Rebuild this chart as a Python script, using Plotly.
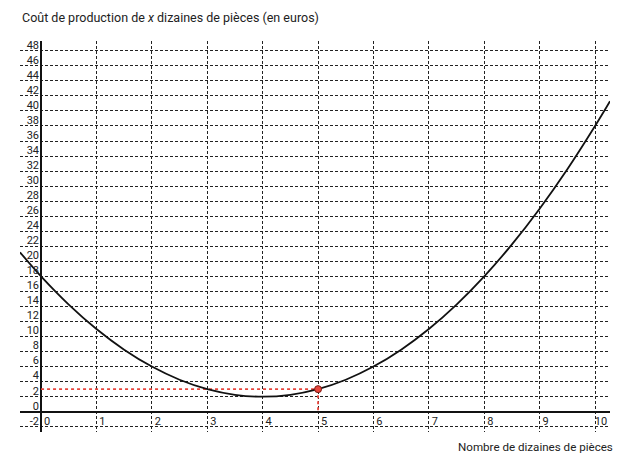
import plotly.graph_objects as go

# Curve values
curve_x = [-0.38, 0, 0.5, 1, 1.5, 2, 2.5, 3, 3.5, 4, 4.5, 5, 5.5, 6, 6.5, 7, 7.5, 8, 8.5, 9, 9.5, 10, 10.27]
curve_y = [21.2, 18, 14.25, 11, 8.25, 6, 4.25, 3, 2.25, 2, 2.25, 3, 4.25, 6, 8.25, 11, 14.25, 18, 22.25, 27, 32.25, 38, 41.3]

# Highlighted point
point_x = [5]
point_y = [3]

x_ticks = list(range(0, 11))
y_ticks = list(range(-2, 49, 2))

title_text = "Coût de production de <i>x</i> dizaines de pièces (en euros)"
xlabel_text = "Nombre de dizaines de pièces"

RED = "#e8453c"
FONT = "Roboto, 'DejaVu Sans', sans-serif"

fig = go.Figure()

# red dotted guide lines
fig.add_trace(go.Scatter(x=[0, point_x[0]], y=[point_y[0], point_y[0]], mode="lines",
                         line=dict(color=RED, width=1.8, dash="dot"), hoverinfo="skip", showlegend=False))
fig.add_trace(go.Scatter(x=[point_x[0], point_x[0]], y=[point_y[0], 0], mode="lines",
                         line=dict(color=RED, width=1.8, dash="dot"), hoverinfo="skip", showlegend=False))

# curve
fig.add_trace(go.Scatter(x=curve_x, y=curve_y, mode="lines",
                         line=dict(color="#111111", width=1.8, shape="spline", smoothing=1.0),
                         showlegend=False))

# point
fig.add_trace(go.Scatter(x=point_x, y=point_y, mode="markers",
                         marker=dict(color=RED, size=7, line=dict(color="#7a1a12", width=1)),
                         showlegend=False))

# page has an 8px body margin: size figure to fill the rest of the window
PAD = 8
W, H = 622 - PAD, 463 - PAD
# plot area in page pixels
PL, PR, PT, PB = 20, 610, 41, 432
L, R, T, B = PL - PAD, W - (PR - PAD), PT - PAD, H - (PB - PAD)
pw, ph = PR - PL, PB - PT

def px_to_paper_x(px):
    return (px - PL) / pw

def px_to_paper_y(py):
    return (PB - py) / ph

fig.update_layout(
    width=W, height=H,
    margin=dict(l=L, r=R, t=T, b=B, autoexpand=False),
    paper_bgcolor="white", plot_bgcolor="white",
    font=dict(family=FONT, size=11, color="#222222"),
    xaxis=dict(
        range=[-0.38, 10.27], tickvals=x_ticks, ticktext=[str(v) for v in x_ticks],
        showgrid=True, gridcolor="#222222", gridwidth=1, griddash="3px,2px",
        zeroline=True, zerolinecolor="#111111", zerolinewidth=2,
        showline=False, ticks="", anchor="free", position=px_to_paper_y(411.7),
        ticklabelshift=6, ticklabelstandoff=1, automargin=False,
        tickfont=dict(size=11, color="#222222"),
    ),
    yaxis=dict(
        range=[-2.7, 49.3], tickvals=y_ticks, ticktext=[str(v) for v in y_ticks],
        showgrid=True, gridcolor="#222222", gridwidth=1, griddash="3px,2px",
        zeroline=True, zerolinecolor="#111111", zerolinewidth=2,
        showline=False, ticks="", anchor="free", position=px_to_paper_x(41),
        ticklabelshift=-6, ticklabelstandoff=2, automargin=False,
        tickfont=dict(size=11, color="#222222"),
    ),
    annotations=[
        dict(text=title_text, xref="paper", yref="paper", x=px_to_paper_x(20), y=px_to_paper_y(18),
             xanchor="left", yanchor="middle", showarrow=False, font=dict(size=12.5, color="#222222")),
        dict(text=xlabel_text, xref="paper", yref="paper", x=px_to_paper_x(615), y=px_to_paper_y(447),
             xanchor="right", yanchor="middle", showarrow=False, font=dict(size=11.6, color="#222222")),
    ],
)

fig.write_html("out.html")
